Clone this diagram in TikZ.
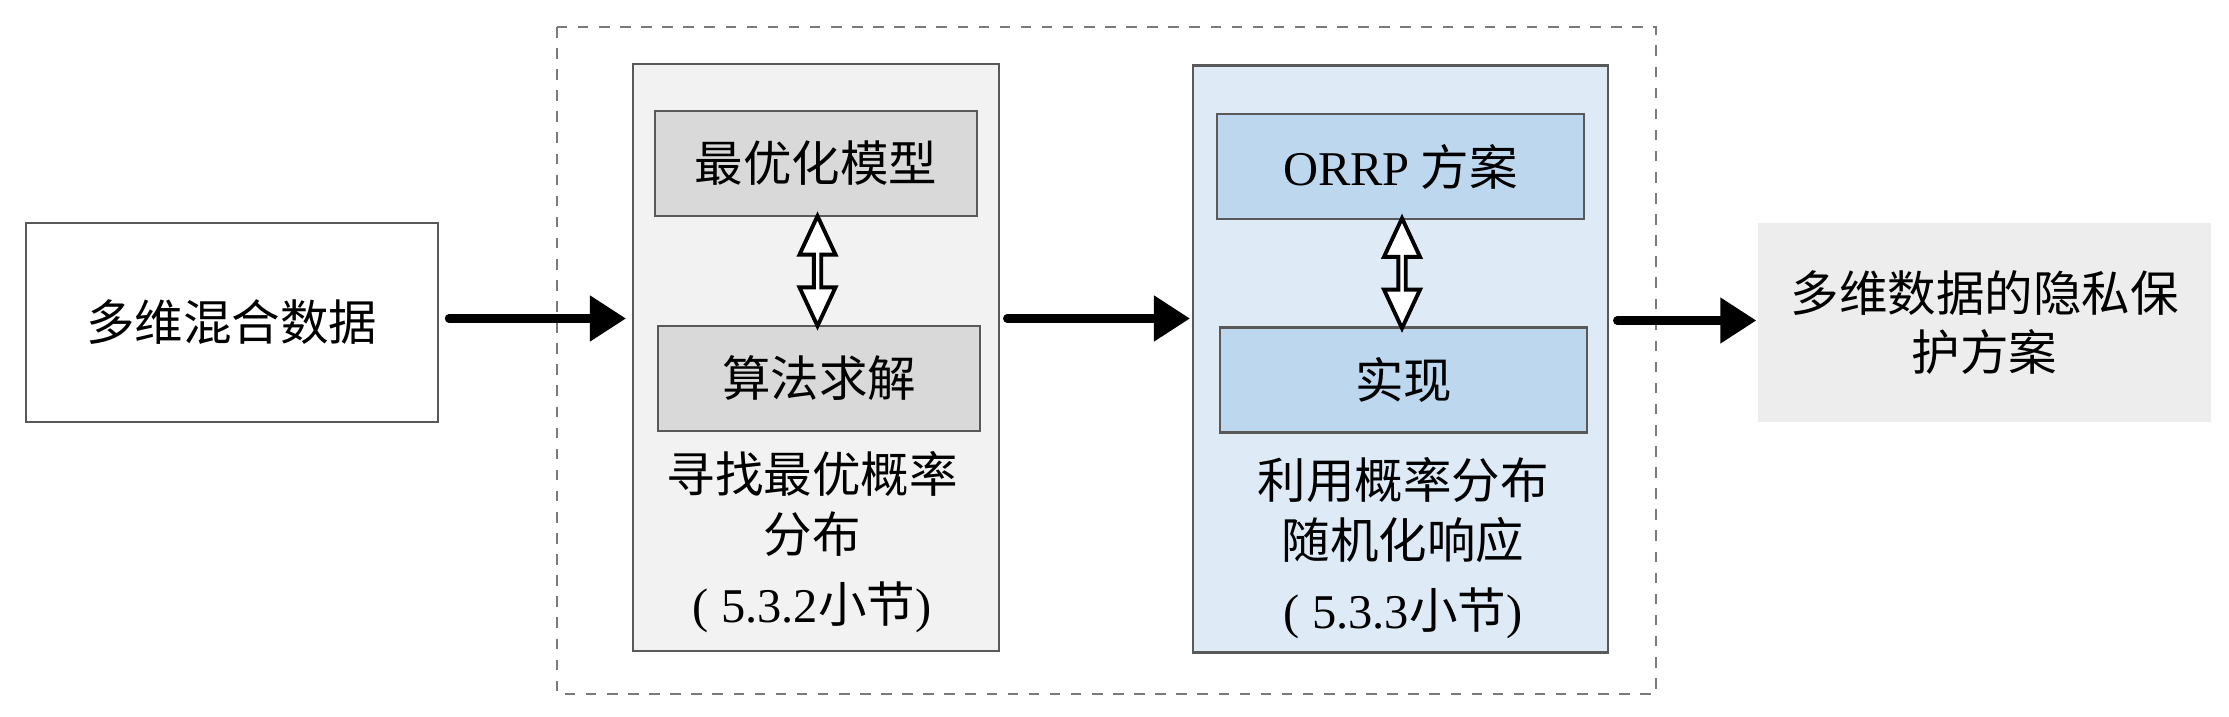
\documentclass[tikz,border=0pt]{standalone}
\usepackage{fontspec}
\setmainfont{Liberation Serif}
\newfontfamily\cjk{Noto Sans CJK SC}
\usepackage{xcolor}
\usepackage{tikz}
\usetikzlibrary{shapes,arrows.meta,positioning,calc}
\definecolor{panelgray}{HTML}{F2F2F2}
\definecolor{innergray}{HTML}{D9D9D9}
\definecolor{panelblue}{HTML}{DEEBF7}
\definecolor{innerblue}{HTML}{BDD7EE}
\definecolor{outgray}{HTML}{EDEDED}
\definecolor{edgegray}{HTML}{595959}
\newcommand{\tnr}[1]{{\rmfamily #1}}

\begin{document}
\begin{tikzpicture}[
    txt/.style={font=\cjk\fontsize{13.8}{17}\selectfont, align=center, inner sep=0pt},
    box/.style={txt, draw=edgegray, line width=0.6pt, minimum width=#1, minimum height=1.05cm},
    panel/.style={draw=edgegray, line width=0.6pt, minimum width=#1, minimum height=5.87cm},
    flow/.style={line width=2.3pt, line cap=round, -{Triangle[length=0.36cm,width=0.44cm]}},
    swap/.style={double arrow, draw, line width=1.1pt, fill=white, rotate=90, inner sep=0pt,
        minimum height=1.1cm, minimum width=0.36cm, double arrow head extend=0.075cm,
        double arrow tip angle=50}]
\useasboundingbox (0,0) rectangle (22.29,7.16);
\draw[edgegray!80, dashed, line width=0.6pt] (5.57,6.89) rectangle (16.56,0.22);
\node[box=4.12cm, minimum height=1.99cm, fill=white] (src) at (2.318,3.935) {多维混合数据};
\node[panel=3.66cm, fill=panelgray] (gray) at (8.16,3.585) {};
\node[box=3.22cm, fill=innergray] (model) at (8.16,5.525) {最优化模型};
\node[box=3.22cm, fill=innergray] (solve) at (8.19,3.375) {算法求解};
\node[swap] (grayswap) at ($(model.south)!0.5!(solve.north)$) {};
\node[txt] (graycap) at (8.12,1.74) {寻找最优概率\\分布\\[3pt]\tnr{( 5.3.2}小节\tnr{)}};
\node[panel=4.15cm, fill=panelblue] (blue) at (14.005,3.57) {};
\node[box=3.67cm, fill=innerblue] (orrp) at (14.005,5.495) {\tnr{ORRP} 方案};
\node[box=3.67cm, fill=innerblue] (impl) at (14.035,3.36) {实现};
\node[swap] (blueswap) at ($(orrp.south)!0.5!(impl.north)$) {};
\node[txt] (bluecap) at (14.03,1.68) {利用概率分布\\随机化响应\\[3pt]\tnr{( 5.3.3}小节\tnr{)}};
\node[txt, fill=outgray, minimum width=4.53cm, minimum height=1.99cm] (dst) at (19.845,3.935) {多维数据的隐私保\\护方案};
\draw[flow, shorten <=0.1cm, shorten >=0.06cm] ([yshift=0.04cm]src.east) -- ([yshift=0.04cm]src.east -| gray.west);
\draw[flow, shorten <=0.07cm, shorten >=0.02cm] ([yshift=0.04cm]src.east -| gray.east) -- ([yshift=0.04cm]src.east -| blue.west);
\draw[flow, shorten <=0.08cm, shorten >=0.01cm] ([yshift=0.02cm]blue.east |- dst.west) -- ([yshift=0.02cm]dst.west);
\end{tikzpicture}
\end{document}
